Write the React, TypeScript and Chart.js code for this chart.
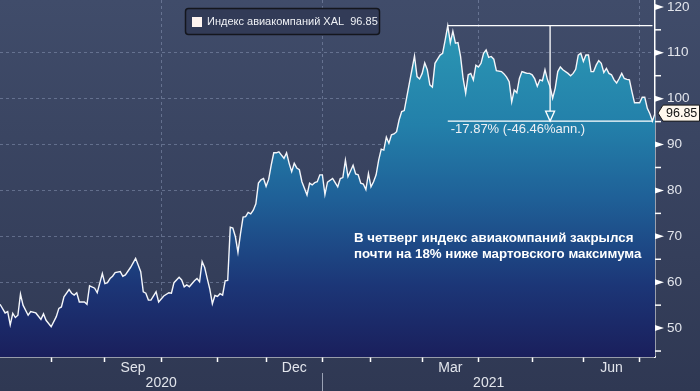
import React, { useEffect, useRef } from 'react';
import { Chart, registerables } from 'chart.js';

Chart.register(...registerables);

// Trading-day index since start of series (early July 2020)
const tradingDays = [
  0, 2, 3, 4, 5, 6, 7, 8, 9, 11, 12, 14, 16, 17, 18, 20, 22, 23, 24, 25, 27, 28, 29, 30, 31, 32, 33, 34, 35, 37, 38,
  40, 41, 42, 43, 44, 45, 47, 48, 49, 51, 53, 55, 56, 57, 58, 59, 61, 62, 64, 66, 67, 68, 70, 71, 72, 73, 74, 76, 77,
  78, 79, 80, 81, 82, 83, 84, 85, 86, 87, 88, 89, 90, 91, 92, 93, 94, 95, 96, 97, 98, 99, 100, 101, 102, 103, 104,
  105, 106, 107, 108, 109, 110, 111, 112, 113, 114, 115, 116, 117, 118, 120, 121, 122, 123, 124, 125, 126, 127, 128,
  130, 131, 132, 133, 134, 135, 136, 138, 139, 140, 141, 142, 143, 144, 145, 146, 147, 148, 149, 150, 151, 152, 153,
  154, 155, 156, 157, 158, 159, 160, 161, 162, 163, 164, 165, 166, 167, 168, 169, 170, 171, 172, 173, 174, 175, 176,
  177, 178, 179, 180, 181, 182, 183, 184, 185, 186, 187, 188, 189, 190, 191, 192, 193, 194, 196, 197, 198, 199, 200,
  201, 202, 203, 204, 205, 206, 207, 208, 209, 210, 211, 212, 213, 214, 215, 216, 217, 218, 219, 220, 222, 223, 224,
  225, 226, 227, 228, 229, 230, 231, 232, 233, 234, 235, 236, 237, 238, 239, 240, 241, 242, 243, 244, 245, 246, 247,
  248, 250, 251, 252, 253, 254, 255, 256,
];

// XAL index closes
const xalValues = [
  55.2, 53.3, 53.6, 50.7, 53.2, 52.3, 52.8, 57.4, 55.0, 52.8, 53.6, 53.3, 51.9, 53.1, 51.7, 50.3, 52.5, 54.3, 54.6, 56.8,
  58.4, 57.6, 57.2, 57.7, 55.7, 55.7, 55.7, 55.2, 59.2, 58.7, 57.7,
  61.9, 59.7, 59.9, 60.8, 61.3, 62.1, 62.3, 61.3, 61.6, 63.2, 65.2, 62.3, 57.9, 57.6, 56.1, 56.1, 57.9, 55.7, 57.0,
  57.7, 57.6, 59.9, 61.1, 60.5, 59.0, 59.4, 59.0, 60.3, 60.8,
  60.1, 64.5, 63.2, 60.8, 58.5, 55.3, 57.1, 56.9, 57.5, 57.2, 60.3, 60.4, 72.0, 71.8, 69.9, 66.5, 70.6, 74.2, 74.3,
  75.2, 74.9, 75.7, 77.1, 81.6, 82.3, 82.6, 80.9,
  82.4, 85.5, 88.2, 88.2, 88.4, 87.7, 87.0, 88.2, 85.9, 84.1, 85.9, 84.9, 84.5, 81.9, 79.0, 81.6, 81.2, 81.7, 81.9,
  83.4, 83.4, 79.1, 81.8,
  82.6, 81.7, 80.8, 82.6, 82.8, 86.6, 83.0, 85.5, 83.6, 83.4, 81.6, 81.4, 80.2, 83.7, 80.8, 81.9, 83.4, 86.6, 89.0,
  88.8, 91.6, 90.3, 92.1,
  92.3, 92.8, 95.4, 97.2, 97.4, 100.4, 103.4, 106.3, 109.3, 104.8, 104.3, 105.5, 107.8, 106.3, 103.0, 102.5, 107.7,
  108.6, 109.5, 109.9, 112.8, 115.9, 112.2,
  114.7, 112.1, 112.2, 109.2, 104.4, 101.2, 105.2, 105.5, 104.1, 107.3, 106.9, 107.7, 109.9, 110.6, 109.0, 109.2,
  108.6, 106.1, 105.9, 105.4, 104.7, 103.7, 99.3,
  101.9, 101.3, 104.4, 105.9, 105.7, 105.5, 105.5, 105.2, 104.3, 102.7, 104.1, 103.9, 106.3, 104.1, 102.6, 100.1,
  102.3, 105.9, 106.9, 106.3, 105.5, 105.0, 105.5,
  106.4, 109.5, 109.9, 108.1, 109.5, 109.5, 105.9, 105.9, 107.3, 108.3, 107.7, 105.7, 106.6, 105.5, 105.2, 104.1,
  103.4, 104.4, 105.5, 104.4, 104.2, 104.1, 101.5,
  99.1, 99.1, 100.3, 100.3, 97.9, 96.7, 95.1, 96.85,
];

// Month boundaries (trading-day index): Aug .. Jul
const monthTickDays = [20, 41, 63, 85, 104, 126, 145, 165, 187, 208, 228, 250];
const quarterGridDays = [63, 126, 187, 250];
const monthLabels = ['Sep', 'Dec', 'Mar', 'Jun'];
const monthLabelDays = [52, 115, 176, 239];
const yearLabels = ['2020', '2021'];
const yearLabelDays = [63, 191];
const yearDividerDay = 126;

const yTickValues = [45, 50, 55, 60, 65, 70, 75, 80, 85, 90, 95, 100, 105, 110, 115, 120];
const yLabelValues = [50, 60, 70, 80, 90, 100, 110, 120];
const yGridValues = [50, 60, 70, 80, 90, 100, 110];

const seriesName = 'Индекс авиакомпаний XAL';
const changeText = '-17.87% (-46.46%ann.)';
const noteLines = ['В четверг индекс авиакомпаний закрылся', 'почти на 18% ниже мартовского максимума'];

const FONT = '"Liberation Sans", Arial, sans-serif';
const GRID = 'rgba(150,165,195,0.45)';
const TEXT = '#e2e5ec';

const bgPlugin = {
  id: 'bgPlugin',
  beforeDraw(chart: any) {
    const { ctx, width, height } = chart;
    const g = ctx.createLinearGradient(0, 0, 0, height);
    g.addColorStop(0, '#404c6a');
    g.addColorStop(1, '#2f3853');
    ctx.save();
    ctx.fillStyle = g;
    ctx.fillRect(0, 0, width, height);
    ctx.restore();
  },
};

const decorPlugin = {
  id: 'decorPlugin',
  afterDraw(chart: any) {
    const { ctx, chartArea: area } = chart;
    const xs = chart.scales.x;
    const ys = chart.scales.y;
    ctx.save();

    // y-axis tick marks
    ctx.strokeStyle = '#ffffff';
    ctx.fillStyle = '#ffffff';
    ctx.lineWidth = 1.5;
    yTickValues.forEach((v) => {
      const py = ys.getPixelForValue(v);
      if (yLabelValues.includes(v)) {
        ctx.beginPath();
        ctx.moveTo(area.right, py - 3);
        ctx.lineTo(area.right + 9, py);
        ctx.lineTo(area.right, py + 3);
        ctx.closePath();
        ctx.fill();
      } else {
        ctx.beginPath();
        ctx.moveTo(area.right, py);
        ctx.lineTo(area.right + 6, py);
        ctx.stroke();
      }
    });

    // x labels
    ctx.fillStyle = TEXT;
    ctx.font = `14px ${FONT}`;
    ctx.textAlign = 'center';
    ctx.textBaseline = 'middle';
    monthLabels.forEach((m, i) => {
      ctx.fillText(m, xs.getPixelForValue(monthLabelDays[i]), area.bottom + 11);
    });
    yearLabels.forEach((y, i) => {
      ctx.fillText(y, xs.getPixelForValue(yearLabelDays[i]), area.bottom + 26);
    });
    const dx = Math.round(xs.getPixelForValue(yearDividerDay)) + 0.5;
    ctx.strokeStyle = '#9aa2b5';
    ctx.lineWidth = 1;
    ctx.beginPath();
    ctx.moveTo(dx, area.bottom + 16);
    ctx.lineTo(dx, chart.height);
    ctx.stroke();

    // peak-to-trough annotation
    let peakIdx = 0;
    xalValues.forEach((v, i) => {
      if (v > xalValues[peakIdx]) peakIdx = i;
    });
    let troughIdx = peakIdx;
    for (let i = peakIdx; i < xalValues.length; i++) if (xalValues[i] < xalValues[troughIdx]) troughIdx = i;
    const x1 = xs.getPixelForValue(tradingDays[peakIdx]);
    const x2 = xs.getPixelForValue(tradingDays[troughIdx]);
    const yTop = ys.getPixelForValue(xalValues[peakIdx]);
    const yBot = ys.getPixelForValue(xalValues[troughIdx]);
    const xm = xs.getPixelForValue((tradingDays[peakIdx] + tradingDays[troughIdx]) / 2);
    ctx.strokeStyle = '#ffffff';
    ctx.lineWidth = 1.3;
    ctx.beginPath();
    ctx.moveTo(x1, yTop);
    ctx.lineTo(x2, yTop);
    ctx.moveTo(x1, yBot);
    ctx.lineTo(x2, yBot);
    ctx.moveTo(xm, yTop);
    ctx.lineTo(xm, yBot - 10);
    ctx.stroke();
    ctx.beginPath();
    ctx.moveTo(xm - 4.5, yBot - 10);
    ctx.lineTo(xm + 4.5, yBot - 10);
    ctx.lineTo(xm, yBot);
    ctx.closePath();
    ctx.stroke();
    ctx.fillStyle = '#eef0f4';
    ctx.font = `13px ${FONT}`;
    ctx.textAlign = 'left';
    ctx.textBaseline = 'middle';
    ctx.fillText(changeText, x1 + 3, yBot + 8);

    // note text
    ctx.fillStyle = '#ffffff';
    ctx.font = `bold 13.3px ${FONT}`;
    ctx.textBaseline = 'alphabetic';
    ctx.fillText(noteLines[0], 354, 242);
    ctx.fillText(noteLines[1], 354, 257.5);

    // legend box
    const lx = 185.5, ly = 8.5, lw = 194, lh = 26, r = 3;
    ctx.beginPath();
    ctx.moveTo(lx + r, ly);
    ctx.lineTo(lx + lw - r, ly);
    ctx.quadraticCurveTo(lx + lw, ly, lx + lw, ly + r);
    ctx.lineTo(lx + lw, ly + lh - r);
    ctx.quadraticCurveTo(lx + lw, ly + lh, lx + lw - r, ly + lh);
    ctx.lineTo(lx + r, ly + lh);
    ctx.quadraticCurveTo(lx, ly + lh, lx, ly + lh - r);
    ctx.lineTo(lx, ly + r);
    ctx.quadraticCurveTo(lx, ly, lx + r, ly);
    ctx.closePath();
    ctx.fillStyle = '#323b57';
    ctx.fill();
    ctx.strokeStyle = '#14161d';
    ctx.lineWidth = 1.5;
    ctx.stroke();
    ctx.fillStyle = '#fff5f0';
    ctx.fillRect(192, 17, 10, 10);
    ctx.fillStyle = '#eef0f4';
    ctx.font = `11px ${FONT}`;
    ctx.textBaseline = 'middle';
    const lastVal = xalValues[xalValues.length - 1];
    ctx.fillText(`${seriesName}  ${lastVal.toFixed(2)}`, 207, 22);

    // last-price tag
    const cy = ys.getPixelForValue(lastVal);
    const tx = area.right + 3;
    ctx.beginPath();
    ctx.moveTo(tx, cy);
    ctx.lineTo(tx + 5, cy - 8);
    ctx.lineTo(chart.width - 0.5, cy - 8);
    ctx.lineTo(chart.width - 0.5, cy + 8);
    ctx.lineTo(tx + 5, cy + 8);
    ctx.closePath();
    ctx.fillStyle = '#fff8ee';
    ctx.fill();
    ctx.strokeStyle = '#1a1a1a';
    ctx.lineWidth = 1;
    ctx.stroke();
    ctx.fillStyle = '#111111';
    ctx.font = `12.5px ${FONT}`;
    ctx.fillText(lastVal.toFixed(2), tx + 8, cy + 0.5);

    ctx.restore();
  },
};

export default function App() {
  const ref = useRef<HTMLCanvasElement | null>(null);

  useEffect(() => {
    if (!ref.current) return;
    const chart = new Chart(ref.current, {
      type: 'line',
      data: {
        datasets: [
          {
            data: tradingDays.map((d, i) => ({ x: d, y: xalValues[i] })),
            borderColor: '#f4f6fa',
            borderWidth: 1.4,
            pointRadius: 0,
            tension: 0,
            fill: 'start',
            backgroundColor: (c: any) => {
              const { chart: ch } = c;
              const a = ch.chartArea;
              if (!a) return 'rgba(0,0,0,0)';
              const g = ch.ctx.createLinearGradient(0, a.top, 0, a.bottom);
              g.addColorStop(0, '#2c9cb8');
              g.addColorStop(0.15, '#2991b1');
              g.addColorStop(0.35, '#2380aa');
              g.addColorStop(0.55, '#1f6198');
              g.addColorStop(0.8, '#1c3677');
              g.addColorStop(1, '#1a1f5c');
              return g;
            },
          },
        ],
      },
      options: {
        animation: false,
        responsive: false,
        maintainAspectRatio: false,
        layout: { padding: 0 },
        plugins: { legend: { display: false }, tooltip: { enabled: false } },
        scales: {
          x: {
            type: 'linear',
            min: 0,
            max: 256,
            afterBuildTicks: (s: any) => {
              s.ticks = monthTickDays.map((v) => ({ value: v }));
            },
            afterFit: (s: any) => {
              s.height = 34;
              s.paddingLeft = 0;
              s.paddingRight = 0;
            },
            ticks: { display: false, autoSkip: false },
            grid: {
              color: (c: any) => (quarterGridDays.includes(c.tick?.value) ? GRID : 'rgba(0,0,0,0)'),
              lineWidth: 1,
              drawTicks: true,
              tickLength: 5,
              tickColor: '#ffffff',
              tickWidth: 1.5,
            },
            border: { display: true, color: '#ffffff', width: 1.5, dash: [3, 3] },
          },
          y: {
            type: 'linear',
            position: 'right',
            min: 43.7,
            max: 121.5,
            afterBuildTicks: (s: any) => {
              s.ticks = yTickValues.map((v) => ({ value: v }));
            },
            afterFit: (s: any) => {
              s.width = 45;
              s.paddingTop = 0;
              s.paddingBottom = 0;
            },
            ticks: {
              autoSkip: false,
              padding: 12,
              color: TEXT,
              font: { size: 13.5, family: FONT },
              callback: (v: any) => (yLabelValues.includes(Number(v)) ? String(v) : ''),
            },
            grid: {
              color: (c: any) => (yGridValues.includes(c.tick?.value) ? GRID : 'rgba(0,0,0,0)'),
              lineWidth: 1,
              drawTicks: false,
            },
            border: { display: true, color: '#ffffff', width: 1.5, dash: [3, 3] },
          },
        },
      },
      plugins: [bgPlugin, decorPlugin],
    });
    return () => chart.destroy();
  }, []);

  return (
    <div style={{ position: 'fixed', left: 0, top: 0, width: 700, height: 391 }}>
      <canvas ref={ref} width={700} height={391} style={{ display: 'block', width: 700, height: 391 }} />
    </div>
  );
}
